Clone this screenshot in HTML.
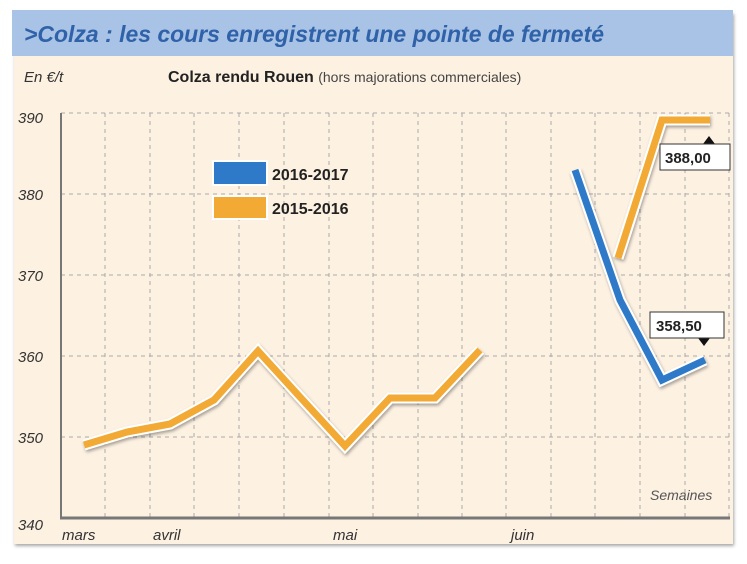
<!DOCTYPE html>
<html><head><meta charset="utf-8"><style>
body{margin:0;background:#fff;width:747px;height:559px;overflow:hidden;font-family:"Liberation Sans",sans-serif}
</style></head><body>
<svg width="747" height="559" xmlns="http://www.w3.org/2000/svg">
<defs><filter id="sh"><feDropShadow dx="1" dy="2" stdDeviation="1.5" flood-color="#000" flood-opacity="0.35"/></filter></defs>
<rect x="14" y="12" width="719" height="532" fill="#fdf1e2" filter="url(#sh)"/>
<rect x="12" y="10" width="721" height="46" fill="#a9c3e6"/>
<text x="24" y="42" font-size="23" font-weight="bold" font-style="italic" fill="#2f62a8" textLength="580" lengthAdjust="spacingAndGlyphs">&gt;Colza : les cours enregistrent une pointe de fermeté</text>
<text x="24" y="82" font-size="15" font-style="italic" fill="#333">En €/t</text>
<text x="168" y="82" font-size="16" font-weight="bold" fill="#222">Colza rendu Rouen <tspan font-weight="normal" font-size="14" fill="#444">(hors majorations commerciales)</tspan></text>
<g stroke="#aaa" stroke-dasharray="4,4" stroke-width="1">
<line x1="61" y1="113" x2="730" y2="113"/><line x1="61" y1="194" x2="730" y2="194"/><line x1="61" y1="275" x2="730" y2="275"/><line x1="61" y1="356" x2="730" y2="356"/><line x1="61" y1="437" x2="730" y2="437"/>
<line x1="105" y1="113" x2="105" y2="517"/><line x1="150" y1="113" x2="150" y2="517"/><line x1="194" y1="113" x2="194" y2="517"/><line x1="239" y1="113" x2="239" y2="517"/><line x1="284" y1="113" x2="284" y2="517"/><line x1="329" y1="113" x2="329" y2="517"/><line x1="373" y1="113" x2="373" y2="517"/><line x1="418" y1="113" x2="418" y2="517"/><line x1="462" y1="113" x2="462" y2="517"/><line x1="506" y1="113" x2="506" y2="517"/><line x1="551" y1="113" x2="551" y2="517"/><line x1="595" y1="113" x2="595" y2="517"/><line x1="640" y1="113" x2="640" y2="517"/><line x1="685" y1="113" x2="685" y2="517"/><line x1="729" y1="113" x2="729" y2="517"/>
</g>
<line x1="61" y1="113" x2="61" y2="518" stroke="#777" stroke-width="2"/>
<line x1="60" y1="518" x2="730" y2="518" stroke="#777" stroke-width="3"/>
<g font-size="15" font-style="italic" fill="#333">
<text x="18" y="123">390</text><text x="18" y="200">380</text><text x="18" y="281">370</text><text x="18" y="362">360</text><text x="18" y="443">350</text><text x="18" y="530">340</text>
<text x="62" y="540">mars</text><text x="153" y="540">avril</text><text x="333" y="540">mai</text><text x="511" y="540">juin</text>
<text x="650" y="500" font-size="14" fill="#555">Semaines</text>
</g>
<g fill="none" stroke-linejoin="miter" filter="url(#sh)">
<polyline points="84,445 127,432 170,424 214,400 258,351 300,397 345,446 390,398 435,398 480,350" stroke="#fff" stroke-width="11"/>
<polyline points="84,445 127,432 170,424 214,400 258,351 300,397 345,446 390,398 435,398 480,350" stroke="#f2aa35" stroke-width="7"/>
<polyline points="618,258 662,120 710,120" stroke="#fff" stroke-width="11"/>
<polyline points="618,258 662,120 710,120" stroke="#f2aa35" stroke-width="7"/>
<polyline points="575,170 620,300 662,380 705,360" stroke="#fff" stroke-width="11"/>
<polyline points="575,170 620,300 662,380 705,360" stroke="#2e7ac8" stroke-width="7"/>
</g>
<rect x="213" y="161" width="54" height="24" fill="#2e7ac8" stroke="#fff" stroke-width="2"/>
<rect x="213" y="196" width="54" height="23" fill="#f2aa35" stroke="#fff" stroke-width="2"/>
<text x="272" y="180" font-size="16" font-weight="bold" fill="#222">2016-2017</text>
<text x="272" y="214" font-size="16" font-weight="bold" fill="#222">2015-2016</text>
<polygon points="703,144 709,136 715,144" fill="#111"/>
<rect x="660" y="144" width="70" height="26" fill="#fff" stroke="#333" stroke-width="1"/>
<text x="665" y="163" font-size="15" font-weight="bold" fill="#222">388,00</text>
<polygon points="698,338 704,346 710,338" fill="#111"/>
<rect x="650" y="312" width="74" height="26" fill="#fff" stroke="#333" stroke-width="1"/>
<text x="656" y="331" font-size="15" font-weight="bold" fill="#222">358,50</text>
</svg>
</body></html>
